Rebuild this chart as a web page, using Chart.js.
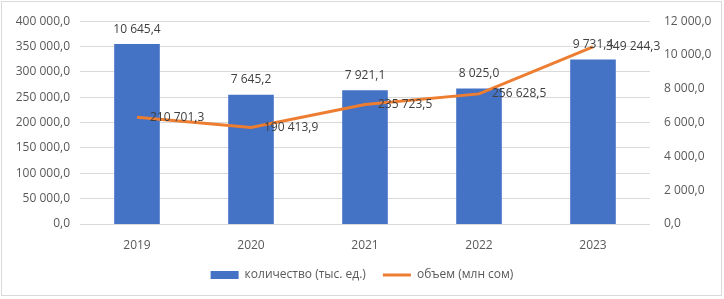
<!DOCTYPE html>
<html>
<head>
<meta charset="utf-8">
<script src="https://cdn.jsdelivr.net/npm/chart.js@4/dist/chart.umd.min.js"></script>
<style>
  body { margin: 0; background: #fff; }
  #wrap { width: 724px; height: 299px; }
</style>
</head>
<body>
<div id="wrap"><canvas id="chart"></canvas></div>
<script>
var years = ['2019', '2020', '2021', '2022', '2023'];
var kolichestvo = [10645.4, 7645.2, 7921.1, 8025.0, 9731.4];   // тыс. ед. (right axis)
var obem = [210701.3, 190413.9, 235723.5, 256628.5, 349244.3];  // млн сом (left axis)
var leftTicks = [0, 400000, 50000];   // min, max, step
var rightTicks = [0, 12000, 2000];

var txtColor = '#595959';
var fontFam = '"Open Sans", "Liberation Sans", sans-serif';

function fmt(v) {
    var s = v.toFixed(1).split('.');
    return s[0].replace(/\B(?=(\d{3})+(?!\d))/g, ' ') + ',' + s[1];
}

// simple value labels, like excel's data labels
var labelPlugin = {
    id: 'vals',
    afterDatasetsDraw: function(chart) {
        var ctx = chart.ctx;
        ctx.save();
        ctx.font = '12px ' + fontFam;
        ctx.fillStyle = '#404040';
        chart.data.datasets.forEach(function(ds, i) {
            var meta = chart.getDatasetMeta(i);
            meta.data.forEach(function(el, j) {
                var txt = fmt(ds.data[j]);
                if (ds.type == 'bar') {
                    ctx.textAlign = 'center';
                    ctx.textBaseline = 'middle';
                    ctx.fillText(txt, el.x, el.y - 15);
                } else {
                    ctx.textAlign = 'left';
                    ctx.textBaseline = 'middle';
                    ctx.fillText(txt, el.x + 13, el.y);
                }
            });
        });
        ctx.restore();
    }
};

var framePlugin = {
    id: 'frame',
    afterDraw: function(chart) {
        var ctx = chart.ctx;
        ctx.save();
        ctx.strokeStyle = '#d9d9d9';
        ctx.lineWidth = 1;
        ctx.strokeRect(1.5, 1.5, 720, 294);
        ctx.restore();
    }
};

var ctx = document.getElementById('chart');
var chart = new Chart(ctx, {
    data: {
        labels: years,
        datasets: [{
            type: 'line',
            label: 'объем (млн сом)',
            data: obem,
            yAxisID: 'y',
            borderColor: '#ED7D31',
            backgroundColor: '#ED7D31',
            borderWidth: 3,
            pointRadius: 0,
            pointStyle: 'line',
            tension: 0,
            order: 0
        }, {
            type: 'bar',
            label: 'количество (тыс. ед.)',
            data: kolichestvo,
            yAxisID: 'y1',
            backgroundColor: '#4472C4',
            pointStyle: 'rect',
            categoryPercentage: 0.4,
            barPercentage: 1,
            order: 1
        }]
    },
    options: {
        responsive: true,
        maintainAspectRatio: false,
        animation: false,
        layout: { padding: { top: 17, bottom: 8 } },
        plugins: {
            legend: {
                position: 'bottom',
                reverse: true,
                labels: {
                    usePointStyle: true,
                    pointStyleWidth: 28,
                    boxHeight: 8,
                    color: txtColor,
                    font: { family: fontFam, size: 12 },
                    padding: 17
                }
            },
            tooltip: { enabled: false }
        },
        scales: {
            x: {
                grid: { display: false },
                border: { display: false },
                ticks: { color: txtColor, font: { family: fontFam, size: 12 }, padding: 6 },
                afterFit: function(s) { s.height = 28; }
            },
            y: {
                position: 'left',
                min: leftTicks[0], max: leftTicks[1],
                ticks: { stepSize: leftTicks[2], color: txtColor, font: { family: fontFam, size: 12 }, padding: 10,
                    callback: function(v) { return fmt(v); } },
                grid: { color: '#d9d9d9', drawTicks: false },
                border: { display: false },
                afterFit: function(s) { s.width = 80; }
            },
            y1: {
                position: 'right',
                min: rightTicks[0], max: rightTicks[1],
                ticks: { stepSize: rightTicks[2], color: txtColor, font: { family: fontFam, size: 12 }, padding: 14,
                    callback: function(v) { return fmt(v); } },
                grid: { display: false, drawTicks: false },
                border: { display: false },
                afterFit: function(s) { s.width = 74; }
            }
        }
    },
    plugins: [labelPlugin, framePlugin]
});
</script>
</body>
</html>
